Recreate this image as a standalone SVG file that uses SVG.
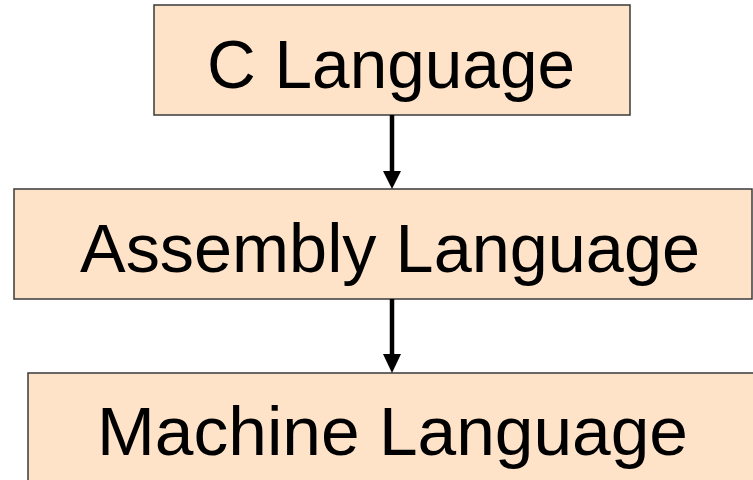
<svg xmlns="http://www.w3.org/2000/svg" width="753" height="480" viewBox="0 0 753 480">
  <style>
    .box { fill: #FEE3C9; stroke: #3A3A3A; stroke-width: 1.5; }
    .label { font-family: "Liberation Sans", Arial, sans-serif; font-size: 69px; fill: #000; }
    .conn { stroke: #000; stroke-width: 4.5; fill: none; }
    .head { fill: #000; }
  </style>
  <rect width="753" height="480" fill="#fff"/>
  <g id="node-c">
    <rect class="box" x="154" y="5" width="476" height="110"/>
    <text class="label" x="207" y="88" textLength="368" lengthAdjust="spacingAndGlyphs">C Language</text>
  </g>
  <g id="node-assembly">
    <rect class="box" x="14" y="189" width="738" height="110"/>
    <text class="label" x="80" y="272" textLength="620" lengthAdjust="spacingAndGlyphs">Assembly Language</text>
  </g>
  <g id="node-machine">
    <rect class="box" x="28" y="373" width="740" height="120"/>
    <text class="label" x="97" y="455" textLength="591" lengthAdjust="spacingAndGlyphs">Machine Language</text>
  </g>
  <g id="connectors">
    <line class="conn" x1="392" y1="115" x2="392" y2="173"/>
    <polygon class="head" points="383,171 401,171 392,189"/>
    <line class="conn" x1="392" y1="299" x2="392" y2="356"/>
    <polygon class="head" points="383,354 401,354 392,373"/>
  </g>
</svg>
